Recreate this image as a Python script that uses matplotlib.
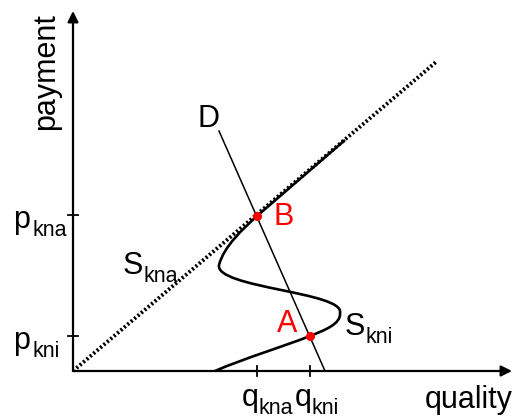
import matplotlib
matplotlib.use("Agg")
import matplotlib.pyplot as plt
from matplotlib.path import Path
from matplotlib.patches import PathPatch

plt.rcParams['font.family'] = ['Liberation Sans', 'DejaVu Sans']

# Valores (origem no cruzamento dos eixos)
q_ticks = [184, 237]
q_subs = ['kna', 'kni']
p_ticks = [156, 35]
p_subs = ['kna', 'kni']

# S_kna: reta pontilhada
skna_x = [0, 363]
skna_y = [0, 309]

# D: demanda
d_x = [146, 252]
d_y = [240, 0]

# S_kni: curva em S (vértices e pontos de controle de Bézier)
skni_pts = [(142, 0),
            (172, 13), (212, 25), (237, 35),      # -> A
            (252, 41), (268, 47), (267, 58),      # -> bojo direito
            (272, 79), (142, 83), (146, 106),     # -> bojo esquerdo
            (151, 125), (170, 142), (184, 155),   # -> B
            (272, 231)]                           # fim
skni_codes = [Path.MOVETO] + [Path.CURVE4] * 12 + [Path.LINETO]

pontos = {'A': (237, 35), 'B': (184, 155)}

FS = 22
FS_SUB = 15.5


def rotulo(ax, x, y, letra, sub, larg, gap=1.0, color='black'):
    # letra principal + subscrito deslocado para baixo
    ax.text(x, y, letra, fontsize=FS, ha='left', va='baseline', color=color)
    dx = larg * FS + gap * 0.72
    ax.annotate(sub, xy=(x, y), xytext=(dx, -6), textcoords='offset points',
                fontsize=FS_SUB, ha='left', va='baseline', color=color)


fig = plt.figure(figsize=(5.15, 4.19), dpi=100)
ax = fig.add_axes([0, 0, 1, 1])
ax.set_xlim(-73, 442)
ax.set_ylim(-48, 371)
ax.axis('off')

# eixos com setas
seta = dict(arrowstyle='-|>', lw=1.6, color='black', mutation_scale=16,
            shrinkA=0, shrinkB=0)
ax.annotate('', xy=(439, 0), xytext=(0, 0), arrowprops=seta)
ax.annotate('', xy=(0, 360), xytext=(0, 0), arrowprops=seta)

for q in q_ticks:
    ax.plot([q, q], [-5, 5], color='black', lw=1.3)
for p in p_ticks:
    ax.plot([-5, 5], [p, p], color='black', lw=1.3)

ax.plot(skna_x, skna_y, color='black', lw=2.8, linestyle=(0, (0.55, 0.6)))
ax.plot(d_x, d_y, color='black', lw=1.1)
ax.add_patch(PathPatch(Path(skni_pts, skni_codes), fill=False,
                       edgecolor='black', lw=1.9))

for nome, (x, y) in pontos.items():
    ax.plot(x, y, 'o', color='red', markersize=5.5)

for q, sub in zip(q_ticks, q_subs):
    rotulo(ax, q - 15, -35, 'q', sub, 0.556, gap=0)
for p, sub in zip(p_ticks, p_subs):
    rotulo(ax, -60, p - 13, 'p', sub, 0.556, gap=3)

ax.text(352, -37, 'quality', fontsize=FS, ha='left', va='baseline')
ax.text(-27, 299, 'payment', fontsize=FS, rotation=90,
        ha='center', va='center')

rotulo(ax, 50, 97, 'S', 'kna', 0.667, gap=0)
rotulo(ax, 272, 36, 'S', 'kni', 0.667, gap=0)
ax.text(124, 244, 'D', fontsize=FS, ha='left', va='baseline')
ax.text(201, 146, 'B', fontsize=FS, color='red', ha='left', va='baseline')
ax.text(204, 39, 'A', fontsize=FS, color='red', ha='left', va='baseline')

fig.savefig('out.png', dpi=100)
